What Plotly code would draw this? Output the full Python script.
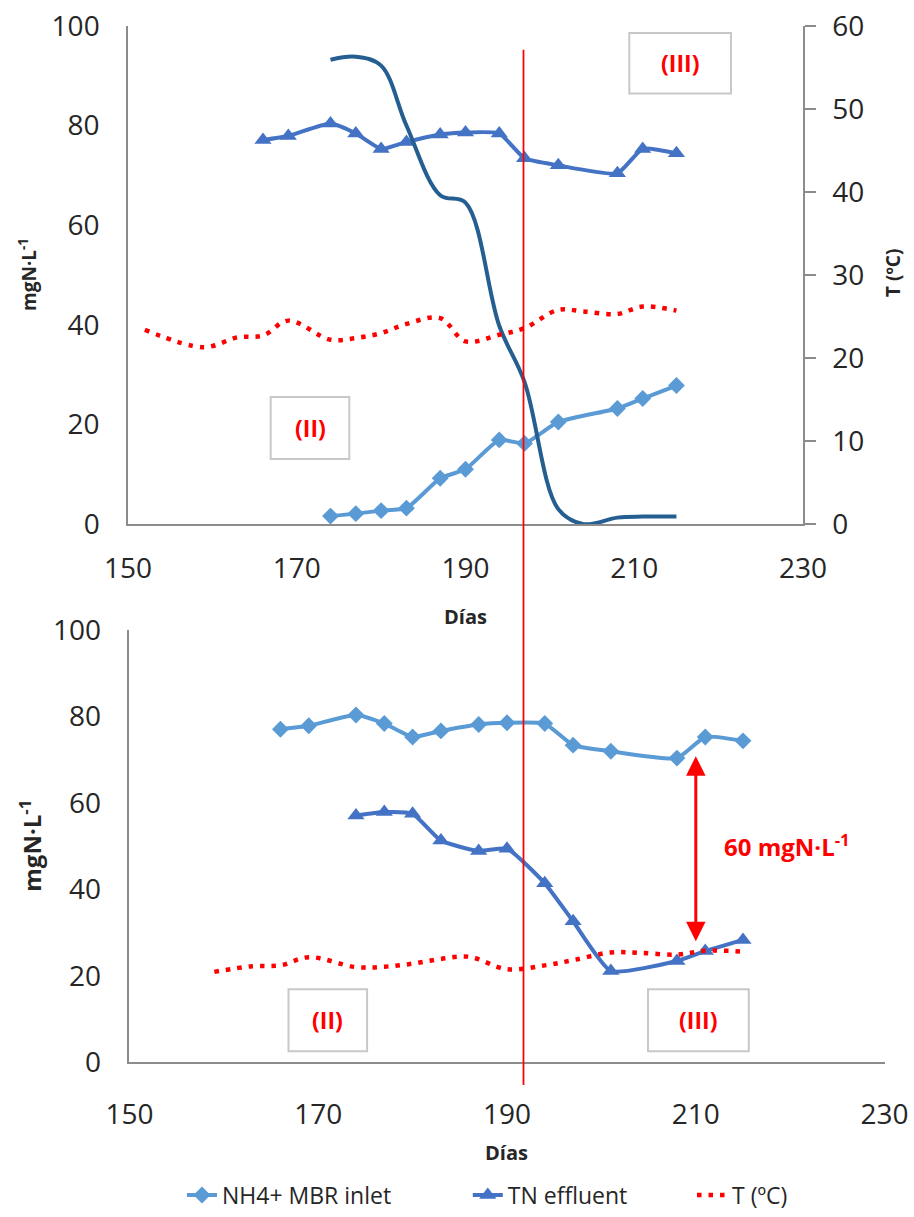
import plotly.graph_objects as go

W, H = 914, 1217

# ---------------- data ----------------
days = [166, 169, 174, 177, 180, 183, 187, 190, 194, 197, 201, 208, 211, 215]
nh4_inlet = [77.1, 77.9, 80.4, 78.4, 75.3, 76.7, 78.2, 78.6, 78.4, 73.4, 72.0, 70.4, 75.3, 74.4]

days_b = [174, 177, 180, 183, 187, 190, 194, 197, 201, 208, 211, 215]
nh4_eff_top = [1.6, 2.1, 2.7, 3.2, 9.2, 11.0, 16.9, 16.2, 20.5, 23.2, 25.2, 27.8]
tn_effluent = [57.1, 57.9, 57.5, 51.3, 48.9, 49.4, 41.4, 32.6, 21.1, 23.4, 25.7, 28.3]

days_c = [174, 177, 180, 183, 187, 190, 194, 197, 201, 204, 208, 211, 215]
curve_top = [93.2, 93.8, 92.0, 80.0, 66.0, 64.5, 39.8, 28.5, 3.0, 0.0, 1.3, 1.5, 1.5]

days_t_top = [152, 159, 163, 166, 169, 174, 177, 180, 183, 187, 190, 194, 197, 201, 204, 208, 211, 215]
temp_top = [23.4, 21.3, 22.5, 22.7, 24.5, 22.2, 22.4, 23.0, 24.1, 24.8, 22.0, 22.8, 23.6, 25.8, 25.6, 25.3, 26.2, 25.7]

days_t_bot = [159, 163, 166, 169, 174, 177, 180, 183, 186, 190, 194, 197, 201, 204, 208, 211, 215]
temp_bot = [20.9, 22.2, 22.4, 24.3, 22.0, 22.1, 22.8, 23.9, 24.4, 21.5, 22.4, 23.6, 25.4, 25.3, 24.9, 25.8, 25.6]

x_ticks = [150, 170, 190, 210, 230]
y_ticks = [0, 20, 40, 60, 80, 100]
y2_ticks = [0, 10, 20, 30, 40, 50, 60]

arrow_day = 210
arrow_top = 71.2
arrow_bottom = 28.0

NB = "\u00a0"
legend_names = ["NH4+ MBR inlet", "TN effluent", "T (ºC)"]

# ---------------- styling helpers ----------------
def px(x):
    return x / W

def py(y):
    return 1 - y / H

FONT = "Open Sans"
C_LIGHT = "#5B9BD5"
C_MID = "#4472C4"
C_NAVY = "#255E91"
C_RED = "#FF0000"
AX = "#8C8C8C"
TXT = "#262626"

fig = go.Figure()

# ---------------- top chart ----------------
fig.add_trace(go.Scatter(x=days, y=nh4_inlet, xaxis="x", yaxis="y", mode="lines+markers",
                         line=dict(color=C_MID, width=4, shape="spline", smoothing=0.5),
                         marker=dict(symbol="triangle-up", size=15, color=C_MID),
                         showlegend=False))
fig.add_trace(go.Scatter(x=days_b, y=nh4_eff_top, xaxis="x", yaxis="y", mode="lines+markers",
                         line=dict(color=C_LIGHT, width=4, shape="spline", smoothing=0.5),
                         marker=dict(symbol="diamond", size=13, color=C_LIGHT),
                         showlegend=False))
fig.add_trace(go.Scatter(x=days_c, y=curve_top, xaxis="x", yaxis="y", mode="lines",
                         line=dict(color=C_NAVY, width=4, shape="spline", smoothing=1.0),
                         showlegend=False))
fig.add_trace(go.Scatter(x=days_t_top, y=temp_top, xaxis="x", yaxis="y2", mode="lines",
                         line=dict(color=C_RED, width=4.5, dash="4.5px,7px", shape="spline", smoothing=1.0),
                         showlegend=False))

# ---------------- bottom chart ----------------
fig.add_trace(go.Scatter(x=days, y=nh4_inlet, xaxis="x3", yaxis="y3", mode="lines+markers",
                         name=legend_names[0] + NB * 12,
                         line=dict(color=C_LIGHT, width=4, shape="spline", smoothing=0.5),
                         marker=dict(symbol="diamond", size=13, color=C_LIGHT)))
fig.add_trace(go.Scatter(x=days_b, y=tn_effluent, xaxis="x3", yaxis="y3", mode="lines+markers",
                         name=legend_names[1] + NB * 10,
                         line=dict(color=C_MID, width=4, shape="spline", smoothing=0.5),
                         marker=dict(symbol="triangle-up", size=15, color=C_MID)))
fig.add_trace(go.Scatter(x=days_t_bot, y=temp_bot, xaxis="x3", yaxis="y3", mode="lines",
                         name=legend_names[2],
                         line=dict(color=C_RED, width=4.5, dash="4.5px,7px", shape="spline", smoothing=1.0)))

tickfont = dict(family=FONT, size=28, color=TXT)

def xax(domain, anchor, standoff):
    return dict(domain=domain, anchor=anchor, range=[150, 230], tickvals=x_ticks,
                showgrid=False, zeroline=False, showline=True, linecolor=AX, linewidth=1.5,
                ticks="", tickfont=tickfont, ticklabelstandoff=standoff, automargin=False,
                fixedrange=True)

def yax(domain, anchor):
    return dict(domain=domain, anchor=anchor, range=[0, 100], tickvals=y_ticks,
                showgrid=False, zeroline=False, showline=True, linecolor=AX, linewidth=1.5,
                ticks="", tickfont=tickfont, ticklabelstandoff=21, automargin=False, fixedrange=True)

top_y = [py(528), py(26)]
bot_y = [py(1070), py(635)]

fig.update_layout(
    width=W, height=H,
    template="none",
    paper_bgcolor="white", plot_bgcolor="rgba(0,0,0,0)",
    margin=dict(l=0, r=0, t=0, b=0),
    font=dict(family=FONT, color=TXT),
    xaxis=xax([px(128), px(803)], "y", 19),
    yaxis=yax(top_y, "x"),
    yaxis2=dict(domain=top_y, anchor="x", overlaying="y", side="right", range=[0, 60],
                tickvals=y2_ticks, showgrid=False, zeroline=False, showline=True,
                linecolor=AX, linewidth=1.5, ticks="outside", ticklen=11, tickcolor=AX,
                tickwidth=1.5, tickfont=tickfont, ticklabelstandoff=11, automargin=False,
                fixedrange=True),
    xaxis3=xax([px(129.4), px(884.6)], "y3", 27),
    yaxis3=yax(bot_y, "x3"),
    showlegend=True,
    legend=dict(orientation="h", x=px(182), xanchor="left", y=py(1204), yanchor="middle",
                font=dict(family=FONT, size=23, color=TXT), bgcolor="rgba(0,0,0,0)"),
)

shapes = []
# vertical red separator line spanning both panels
shapes.append(dict(type="line", xref="paper", yref="paper", x0=px(523.5), x1=px(523.5),
                   y0=py(1093), y1=py(50), line=dict(color=C_RED, width=1.75)))
# phase label boxes
boxes = [
    (270.7, 400, 349.3, 462.3, "(II)"),
    (629.3, 33.3, 731, 94.3, "(III)"),
    (288.5, 996.7, 367.1, 1059, "(II)"),
    (648, 996.7, 748.8, 1059, "(III)"),
]
annotations = []
for x0, y0, x1, y1, label in boxes:
    shapes.append(dict(type="rect", xref="paper", yref="paper", x0=px(x0), x1=px(x1),
                       y0=py(y1), y1=py(y0), line=dict(color="#C8C8C8", width=2),
                       fillcolor="rgba(255,255,255,0)"))
    annotations.append(dict(xref="paper", yref="paper", x=px((x0 + x1) / 2), y=py((y0 + y1) / 2),
                            text="<b>" + label + "</b>", showarrow=False,
                            font=dict(family=FONT, size=23, color=C_RED),
                            xanchor="center", yanchor="middle"))

# axis titles
annotations += [
    dict(xref="paper", yref="paper", x=px(28), y=py(277), text="<b>mgN·L<sup>-1</sup></b>",
         textangle=-90, showarrow=False, font=dict(family=FONT, size=19, color=TXT),
         xanchor="center", yanchor="middle"),
    dict(xref="paper", yref="paper", x=px(893), y=py(275), text="<b>T (ºC)</b>",
         textangle=-90, showarrow=False, font=dict(family=FONT, size=19, color=TXT),
         xanchor="center", yanchor="middle"),
    dict(xref="paper", yref="paper", x=px(466), y=py(621), text="<b>Días</b>",
         showarrow=False, font=dict(family=FONT, size=20, color=TXT),
         xanchor="center", yanchor="middle"),
    dict(xref="paper", yref="paper", x=px(31), y=py(852), text="<b>mgN·L<sup>-1</sup></b>",
         textangle=-90, showarrow=False, font=dict(family=FONT, size=24, color=TXT),
         xanchor="center", yanchor="middle"),
    dict(xref="paper", yref="paper", x=px(507), y=py(1161), text="<b>Días</b>",
         showarrow=False, font=dict(family=FONT, size=20, color=TXT),
         xanchor="center", yanchor="middle"),
]

# double-headed arrow showing the 60 mgN/L gap
annotations.append(dict(xref="x3", yref="y3", x=arrow_day, y=arrow_bottom,
                        axref="x3", ayref="y3", ax=arrow_day, ay=arrow_top,
                        showarrow=True, arrowhead=2, startarrowhead=2, arrowside="end+start",
                        arrowsize=1.3, startarrowsize=1.3, arrowwidth=3, arrowcolor=C_RED, text=""))
annotations.append(dict(xref="x3", yref="y3", x=219.7, y=50.2,
                        text="<b>60 mgN·L<sup>-1</sup></b>", showarrow=False,
                        font=dict(family=FONT, size=24, color=C_RED),
                        xanchor="center", yanchor="middle"))

fig.update_layout(shapes=shapes, annotations=annotations)

fig.write_html("out.html", config={"displayModeBar": False},
               post_script="document.body.style.margin='0px';document.body.style.overflow='hidden';")
